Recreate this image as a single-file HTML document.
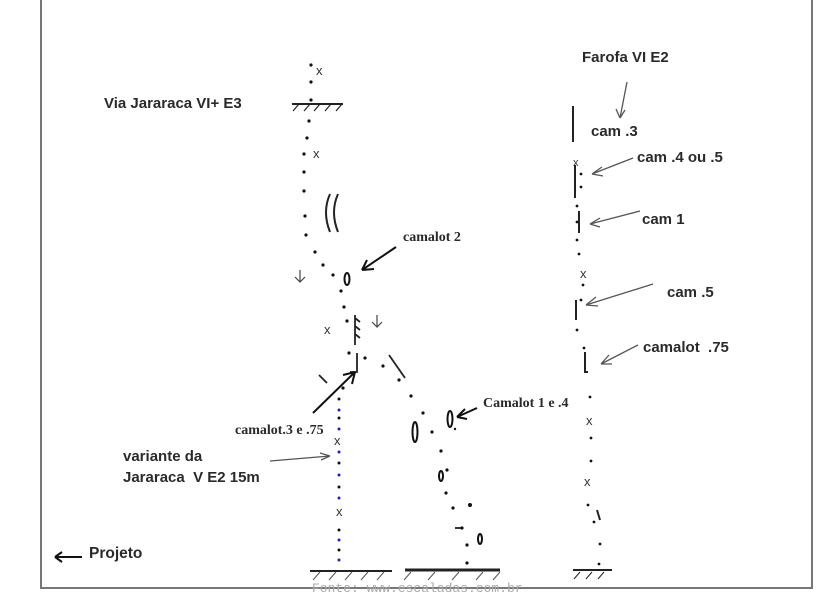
<!DOCTYPE html>
<html><head><meta charset="utf-8"><style>
html,body{margin:0;padding:0;background:#fff;}
svg{display:block}
.s{font-family:"Liberation Sans",sans-serif;font-weight:bold;fill:#2a2a2a;font-size:15px}
.r{font-family:"Liberation Serif",serif;font-weight:bold;fill:#2a2a2a;font-size:14px}
.x{font-family:"Liberation Sans",sans-serif;fill:#333;font-size:13px}
</style></head><body>
<svg width="840" height="607" viewBox="0 0 840 607" xmlns="http://www.w3.org/2000/svg">
<rect width="840" height="607" fill="#fff"/>
<path d="M41 0 V588 H812 V0" fill="none" stroke="#777" stroke-width="2"/>
<g fill="#111">
<circle cx="311" cy="65" r="1.6"/><circle cx="311" cy="82" r="1.6"/><circle cx="311" cy="100" r="1.6"/>
<circle cx="309" cy="121" r="1.6"/><circle cx="307" cy="138" r="1.6"/><circle cx="304" cy="154" r="1.6"/>
<circle cx="304" cy="172" r="1.6"/><circle cx="304" cy="191" r="1.6"/><circle cx="305" cy="216" r="1.6"/>
<circle cx="306" cy="235" r="1.6"/><circle cx="315" cy="252" r="1.6"/><circle cx="323" cy="265" r="1.6"/>
<circle cx="333" cy="275" r="1.6"/><circle cx="341" cy="291" r="1.6"/><circle cx="344" cy="307" r="1.6"/>
<circle cx="347" cy="321" r="1.6"/><circle cx="349" cy="353" r="1.6"/><circle cx="365" cy="358" r="1.6"/>
<circle cx="383" cy="366" r="1.6"/><circle cx="343" cy="388" r="1.6"/>
<circle cx="399" cy="380" r="1.6"/><circle cx="411" cy="396" r="1.6"/><circle cx="423" cy="413" r="1.6"/>
<circle cx="432" cy="432" r="1.6"/><circle cx="441" cy="451" r="1.6"/><circle cx="447" cy="470" r="1.6"/>
<circle cx="446" cy="493" r="1.6"/><circle cx="453" cy="508" r="1.6"/><circle cx="470" cy="505" r="2"/>
<circle cx="462" cy="528" r="1.6"/><circle cx="467" cy="545" r="1.6"/><circle cx="467" cy="563" r="1.6"/>
<circle cx="455" cy="429" r="1.2"/>
</g>
<g>
<circle cx="339" cy="399" r="1.5" fill="#111"/><circle cx="339" cy="410" r="1.5" fill="#22a"/>
<circle cx="339" cy="418" r="1.5" fill="#111"/><circle cx="339" cy="429" r="1.5" fill="#22a"/>
<circle cx="339" cy="452" r="1.5" fill="#22a"/><circle cx="339" cy="463" r="1.5" fill="#111"/>
<circle cx="339" cy="475" r="1.5" fill="#22a"/><circle cx="339" cy="487" r="1.5" fill="#111"/>
<circle cx="339" cy="498" r="1.5" fill="#22a"/><circle cx="339" cy="530" r="1.5" fill="#111"/>
<circle cx="339" cy="540" r="1.5" fill="#22a"/><circle cx="339" cy="550" r="1.5" fill="#111"/>
<circle cx="339" cy="560" r="1.5" fill="#22a"/>
</g>
<text class="x" x="316" y="75">x</text>
<text class="x" x="313" y="158">x</text>
<text class="x" x="324" y="334">x</text>
<text class="x" x="334" y="445">x</text>
<text class="x" x="336" y="516">x</text>
<g stroke="#222" stroke-width="2" fill="none">
<path d="M292 104 H343"/>
<path d="M299 104 l-6 7 M310 104 l-6 7 M320 104 l-6 7 M331 104 l-6 7 M342 104 l-6 7" stroke-width="1.2"/>
<path d="M310 571 H392"/>
<path d="M320 572 l-7 8 M336 572 l-7 8 M352 572 l-7 8 M368 572 l-7 8 M384 572 l-7 8" stroke-width="1" stroke="#555"/>
<path d="M405 570 H500" stroke-width="3"/>
<path d="M411 572 l-7 8 M435 572 l-7 8 M459 572 l-7 8 M483 572 l-7 8 M500 572 l-7 8" stroke-width="1" stroke="#555"/>
<path d="M573 570 H612"/>
<path d="M580 572 l-6 7 M592 572 l-6 7 M604 572 l-6 7" stroke-width="1"/>
</g>
<path d="M330 194 Q322 212 330 232 M338 194 Q330 212 338 232" stroke="#222" stroke-width="2" fill="none"/>
<g fill="none" stroke="#111" stroke-width="2">
<ellipse cx="347" cy="279" rx="2.5" ry="6"/>
<ellipse cx="415" cy="432" rx="2.5" ry="10"/>
<ellipse cx="450" cy="419" rx="2.5" ry="8"/>
<ellipse cx="441" cy="476" rx="2" ry="5"/>
<ellipse cx="480" cy="539" rx="2" ry="5"/>
</g>
<g stroke="#222" stroke-width="1.8" fill="none">
<path d="M355 315 V345 M355 318 l5 4 M355 326 l5 4 M355 334 l5 4"/>
<path d="M357 353 V372 H350"/>
<path d="M389 355 L405 378"/>
<path d="M319 375 L327 383"/>
<path d="M455 528 h6"/>
</g>
<g stroke="#444" stroke-width="1.2" fill="none">
<path d="M300 270 V282 M295 277 l5 5 5-5"/>
<path d="M377 315 V327 M372 322 l5 5 5-5"/>
</g>
<g stroke="#111" stroke-width="2" fill="none">
<path d="M396 247 L362 270 M362 270 l12 -1 M362 270 l5 -10"/>
<path d="M313 413 L355 372 M355 372 l-12 3 M355 372 l-3 12"/>
<path d="M477 408 L457 417 M457 417 l8 -8 M457 417 l10 2"/>
</g>
<g stroke="#555" stroke-width="1.3" fill="none">
<path d="M270 461 L330 456 M330 456 l-10 -3 M330 456 l-9 4"/>
<path d="M627 82 L620 118 M620 118 l-4 -9 M620 118 l5 -8"/>
<path d="M633 158 L592 174 M592 174 l10 -7 M592 174 l11 2"/>
<path d="M640 211 L590 224 M590 224 l10 -6 M590 224 l10 3"/>
<path d="M653 284 L586 305 M586 305 l10 -8 M586 305 l12 1"/>
<path d="M638 345 L601 364 M601 364 l8 -9 M601 364 l11 0"/>
<path d="M55 557 H82 M55 557 l7 -5 M55 557 l7 5" stroke="#111" stroke-width="2"/>
</g>
<g stroke="#222" stroke-width="2" fill="none">
<path d="M573 106 V142"/>
<path d="M575 165 V198"/>
<path d="M579 211 V233"/>
<path d="M576 300 V320"/>
<path d="M585 352 V372 H588"/>
<path d="M597 510 L600 520"/>
</g>
<g fill="#111">
<circle cx="581" cy="174" r="1.4"/><circle cx="581" cy="187" r="1.4"/><circle cx="577" cy="206" r="1.4"/>
<circle cx="577" cy="222" r="1.4"/><circle cx="577" cy="240" r="1.4"/><circle cx="579" cy="254" r="1.4"/>
<circle cx="583" cy="285" r="1.4"/><circle cx="581" cy="300" r="1.4"/><circle cx="577" cy="330" r="1.4"/>
<circle cx="584" cy="348" r="1.4"/><circle cx="590" cy="397" r="1.4"/><circle cx="591" cy="438" r="1.4"/>
<circle cx="591" cy="461" r="1.4"/><circle cx="588" cy="505" r="1.4"/><circle cx="594" cy="522" r="1.4"/>
<circle cx="600" cy="544" r="1.4"/><circle cx="599" cy="564" r="1.4"/>
</g>
<text class="x" x="573" y="166" style="font-size:11px">x</text>
<text class="x" x="580" y="278">x</text>
<text class="x" x="586" y="425">x</text>
<text class="x" x="584" y="486">x</text>
<text class="s" x="104" y="108">Via Jararaca VI+ E3</text>
<text class="s" x="582" y="62">Farofa VI E2</text>
<text class="s" x="591" y="136">cam .3</text>
<text class="s" x="637" y="162">cam .4 ou .5</text>
<text class="s" x="642" y="224">cam 1</text>
<text class="s" x="667" y="297">cam .5</text>
<text class="s" x="643" y="352">camalot&#160; .75</text>
<text class="s" x="123" y="461">variante da</text>
<text class="s" x="123" y="482">Jararaca&#160; V E2 15m</text>
<text class="s" x="89" y="558" style="font-size:15.5px">Projeto</text>
<text class="r" x="403" y="241">camalot 2</text>
<text class="r" x="235" y="434">camalot.3 e .75</text>
<text class="r" x="483" y="407">Camalot 1 e .4</text>
<text x="312" y="592" style="font-family:'Liberation Mono',monospace;font-size:13px;fill:#aaa">Fonte: www.escaladas.com.br</text>
</svg>
</body></html>
